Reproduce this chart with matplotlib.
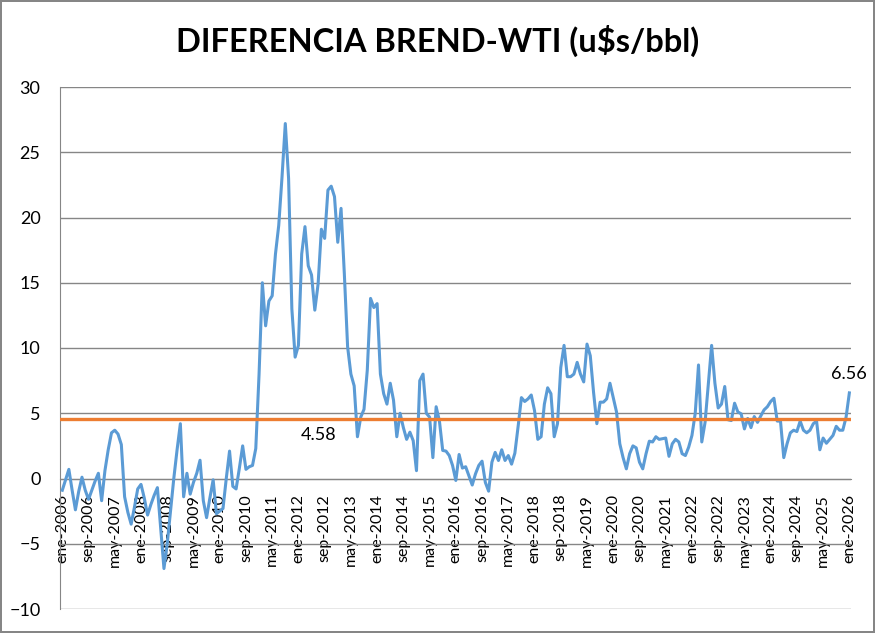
import matplotlib
matplotlib.use("Agg")
import matplotlib.pyplot as plt
import numpy as np

plt.rcParams['font.family'] = ['Lato', 'DejaVu Sans']

# Brent - WTI monthly spread (u$s/bbl), ene-2006 .. ene-2026
y2006 = [-0.9, -0.1, 0.7, -0.9, -2.4, -1.0, 0.1, -0.9, -1.6, -0.9, -0.2, 0.4]
y2007 = [-1.7, 0.6, 2.2, 3.5, 3.7, 3.4, 2.6, -1.4, -2.6, -3.5, -2.2, -0.8]
y2008 = [-0.45, -1.5, -2.8, -2.0, -1.3, -0.7, -3.8, -6.9, -5.0, -2.5, 0.0, 2.2]
y2009 = [4.2, -1.4, 0.4, -1.2, -0.3, 0.4, 1.4, -1.7, -3.0, -1.5, -0.1, -2.7]
y2010 = [-2.5, -2.3, 0.0, 2.1, -0.6, -0.8, 0.8, 2.5, 0.7, 0.9, 1.0, 2.3]
y2011 = [8.0, 15.0, 11.7, 13.6, 14.0, 17.2, 19.4, 23.1, 27.2, 23.0, 13.0, 9.3]
y2012 = [10.2, 17.2, 19.3, 16.3, 15.6, 12.9, 14.9, 19.1, 18.4, 22.1, 22.4, 21.6]
y2013 = [18.1, 20.7, 15.7, 10.1, 8.0, 7.1, 3.2, 4.7, 5.3, 8.3, 13.8, 13.1]
y2014 = [13.4, 8.0, 6.5, 5.7, 7.3, 6.0, 3.2, 5.0, 3.9, 3.0, 3.55, 2.9]
y2015 = [0.6, 7.5, 8.0, 5.0, 4.7, 1.6, 5.5, 4.4, 2.15, 2.1, 1.76, 1.0]
y2016 = [-0.15, 1.84, 0.8, 0.9, 0.2, -0.5, 0.36, 1.0, 1.33, -0.3, -0.97, 1.25]
y2017 = [2.0, 1.38, 2.2, 1.38, 1.76, 1.1, 1.94, 4.0, 6.2, 5.9, 6.1, 6.4]
y2018 = [5.2, 3.0, 3.2, 5.7, 6.95, 6.5, 3.2, 4.2, 8.5, 10.2, 7.8, 7.8]
y2019 = [8.0, 8.9, 8.0, 7.4, 10.3, 9.4, 6.6, 4.2, 5.85, 5.85, 6.1, 7.3]
y2020 = [6.2, 5.1, 2.66, 1.6, 0.74, 1.9, 2.5, 2.35, 1.25, 0.74, 1.9, 2.86]
y2021 = [2.8, 3.2, 3.0, 3.05, 3.1, 1.7, 2.66, 3.0, 2.8, 1.9, 1.76, 2.4]
y2022 = [3.3, 5.0, 8.7, 2.8, 4.3, 7.3, 10.2, 7.3, 5.4, 5.7, 7.05, 4.5]
y2023 = [4.44, 5.77, 5.1, 4.96, 3.8, 4.6, 3.9, 4.75, 4.3, 4.8, 5.26, 5.5]
y2024 = [5.9, 6.15, 4.4, 4.4, 1.6, 2.66, 3.5, 3.7, 3.6, 4.4, 3.7, 3.5]
y2025 = [3.7, 4.2, 4.4, 2.2, 3.1, 2.7, 3.0, 3.3, 4.0, 3.7, 3.7, 4.7]
y2026 = [6.56]

spread = (y2006 + y2007 + y2008 + y2009 + y2010 + y2011 + y2012 + y2013 + y2014
          + y2015 + y2016 + y2017 + y2018 + y2019 + y2020 + y2021 + y2022
          + y2023 + y2024 + y2025 + y2026)
promedio = 4.58

meses = ["ene", "feb", "mar", "abr", "may", "jun", "jul", "ago", "sep", "oct", "nov", "dic"]
labels = ["%s-%d" % (meses[i % 12], 2006 + i // 12) for i in range(len(spread))]
x = np.arange(len(spread))

fig = plt.figure(figsize=(8.75, 6.33), dpi=100)
fig.patch.set_edgecolor("#868686")
fig.patch.set_linewidth(1.5)
ax = fig.add_axes([60 / 875, 24 / 633, 791 / 875, 522 / 633])

ax.set_ylim(-10, 30)
ax.set_xlim(-0.7, 240.5)
ax.set_yticks(np.arange(-10, 31, 5))
ax.grid(axis="y", color="#868686", linewidth=1)
ax.set_axisbelow(True)

ax.plot(x, spread, color="#5B9BD5", linewidth=2.2, zorder=3)
ax.axhline(promedio, color="#ED7D31", linewidth=2.4, zorder=4)

# labels: average (placed around may-2012) and last value
ax.text(78, promedio - 0.6, "%.2f" % promedio, ha="center", va="top", fontsize=13)
ax.text(x[-1], spread[-1] + 0.8, "%.2f" % spread[-1], ha="center", va="bottom", fontsize=13)

for s in ["top", "right"]:
    ax.spines[s].set_visible(False)
ax.spines["bottom"].set_position(("data", 0))
ax.spines["bottom"].set_color("#868686")
ax.spines["left"].set_color("#868686")

ax.set_xticks(x[::8])
ax.set_xticklabels(labels[::8])
ax.tick_params(axis="x", length=0, pad=11, labelrotation=90, labelsize=11.5)
ax.tick_params(axis="y", length=0, labelsize=13, pad=14)

fig.text(0.5, 0.935, "DIFERENCIA BREND-WTI (u$s/bbl)", ha="center", va="center",
         fontsize=23.5, fontweight="bold")

fig.savefig("out.png", dpi=100)
